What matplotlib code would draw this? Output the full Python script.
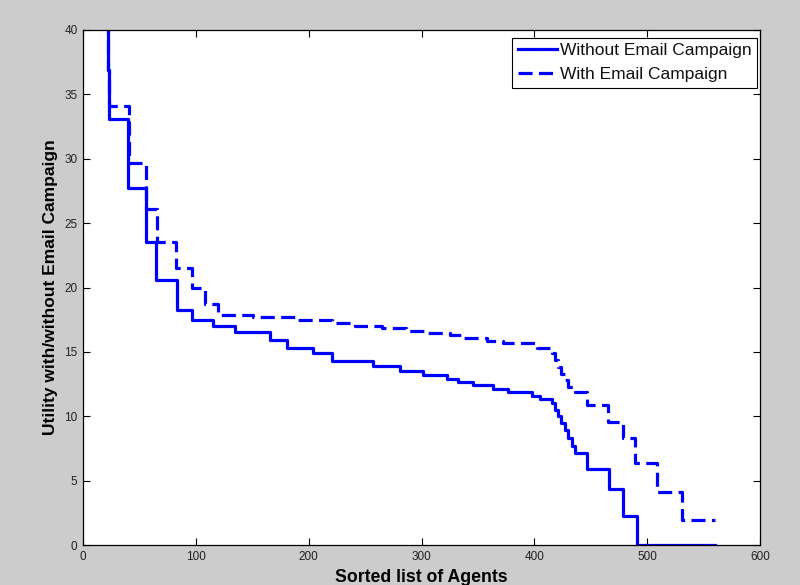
import matplotlib
matplotlib.use("Agg")
import matplotlib.pyplot as plt

# Step breakpoints: agent index where each utility level starts, and the level
without_x = [20.8, 21.8, 23, 40.2, 56, 64.7, 83, 96.3, 115.5, 134.8, 165.8, 181,
             204, 220.5, 257.4, 281, 301.7, 322.4, 332.7, 346, 363.8, 377, 398,
             404.6, 415.5, 418, 421, 424, 427, 430, 433, 436.2, 447, 466.6, 479,
             490.8, 560]
without_y = [45, 36.9, 33.07, 27.7, 23.57, 20.6, 18.26, 17.48, 17.04, 16.53, 15.93,
             15.28, 14.9, 14.32, 13.9, 13.55, 13.2, 12.87, 12.69, 12.43, 12.12,
             11.91, 11.58, 11.37, 11.0, 10.5, 10.0, 9.5, 8.9, 8.3, 7.7, 7.17, 5.88,
             4.33, 2.25, 0.0, 0.0]

with_x = [20.8, 21.8, 23, 40.8, 56, 65.3, 82.4, 96.3, 108.2, 119.4, 151, 188,
          220.5, 241, 265, 286, 305, 325, 338, 358, 372, 402, 415.5, 418, 421,
          424, 427, 430, 436, 446.5, 465.7, 479, 489, 508.6, 530.7, 560]
with_y = [45, 36.9, 34.1, 29.7, 26.08, 23.5, 21.5, 20.0, 18.73, 17.87, 17.74,
          17.48, 17.22, 17.04, 16.87, 16.62, 16.45, 16.3, 16.08, 15.85, 15.67,
          15.28, 14.9, 14.4, 13.8, 13.3, 12.8, 12.3, 11.9, 10.88, 9.58, 8.29, 6.35,
          4.14, 1.94, 1.94]

x_ticks = [0, 100, 200, 300, 400, 500, 600]
y_ticks = [0, 5, 10, 15, 20, 25, 30, 35, 40]

series_labels = ["Without Email Campaign", "With Email Campaign"]

plt.rcParams["font.family"] = ["Liberation Sans", "DejaVu Sans"]

W, H = 800, 585
fig = plt.figure(figsize=(W / 100, H / 100), dpi=100, facecolor="#cccccc")
ax = fig.add_axes([83 / W, 1 - 545 / H, (760 - 83) / W, (545 - 30) / H])
ax.set_facecolor("white")

blue = "#0000ff"
ax.plot(without_x, without_y, drawstyle="steps-post", color=blue, lw=2.3,
        label=series_labels[0])
ax.plot(with_x, with_y, drawstyle="steps-post", color=blue, lw=2.3,
        linestyle=(0, (4.4, 2.0)), label=series_labels[1])

ax.set_xlim(0, 600)
ax.set_ylim(0, 40)
ax.set_xticks(x_ticks)
ax.set_yticks(y_ticks)
ax.tick_params(direction="in", length=5, width=0.8, top=True, right=True,
               labelsize=8.5, labelcolor="#222222", pad=4)
tick_font = ["Liberation Sans Narrow", "Liberation Sans", "DejaVu Sans"]
for lbl in ax.get_xticklabels() + ax.get_yticklabels():
    lbl.set_family(tick_font)
for s in ax.spines.values():
    s.set_linewidth(0.9)
    s.set_color("black")

ax.set_xlabel("Sorted list of Agents", fontsize=12.7, fontweight="bold")
ax.xaxis.set_label_coords(0.5, -(577 - 545) / (545 - 30), transform=ax.transAxes)
ax.xaxis.label.set_va("center")
ax.set_ylabel("Utility with/without Email Campaign", fontsize=12.5,
              fontweight="bold")
ax.yaxis.set_label_coords(-(83 - 51) / (760 - 83), 0.5, transform=ax.transAxes)
ax.yaxis.label.set_va("center")

leg = ax.legend(loc="upper right", bbox_to_anchor=(756.7 / W, 1 - 37.7 / H),
                bbox_transform=fig.transFigure, borderaxespad=0.0,
                fontsize=12.5, frameon=True, fancybox=False,
                edgecolor="black", framealpha=1.0, handlelength=2.3,
                handletextpad=0.12, borderpad=0.32, labelspacing=0.5)
leg.get_frame().set_linewidth(0.8)
for t in leg.get_texts():
    t.set_color("#111111")

fig.savefig("out.png", dpi=100, facecolor=fig.get_facecolor())
